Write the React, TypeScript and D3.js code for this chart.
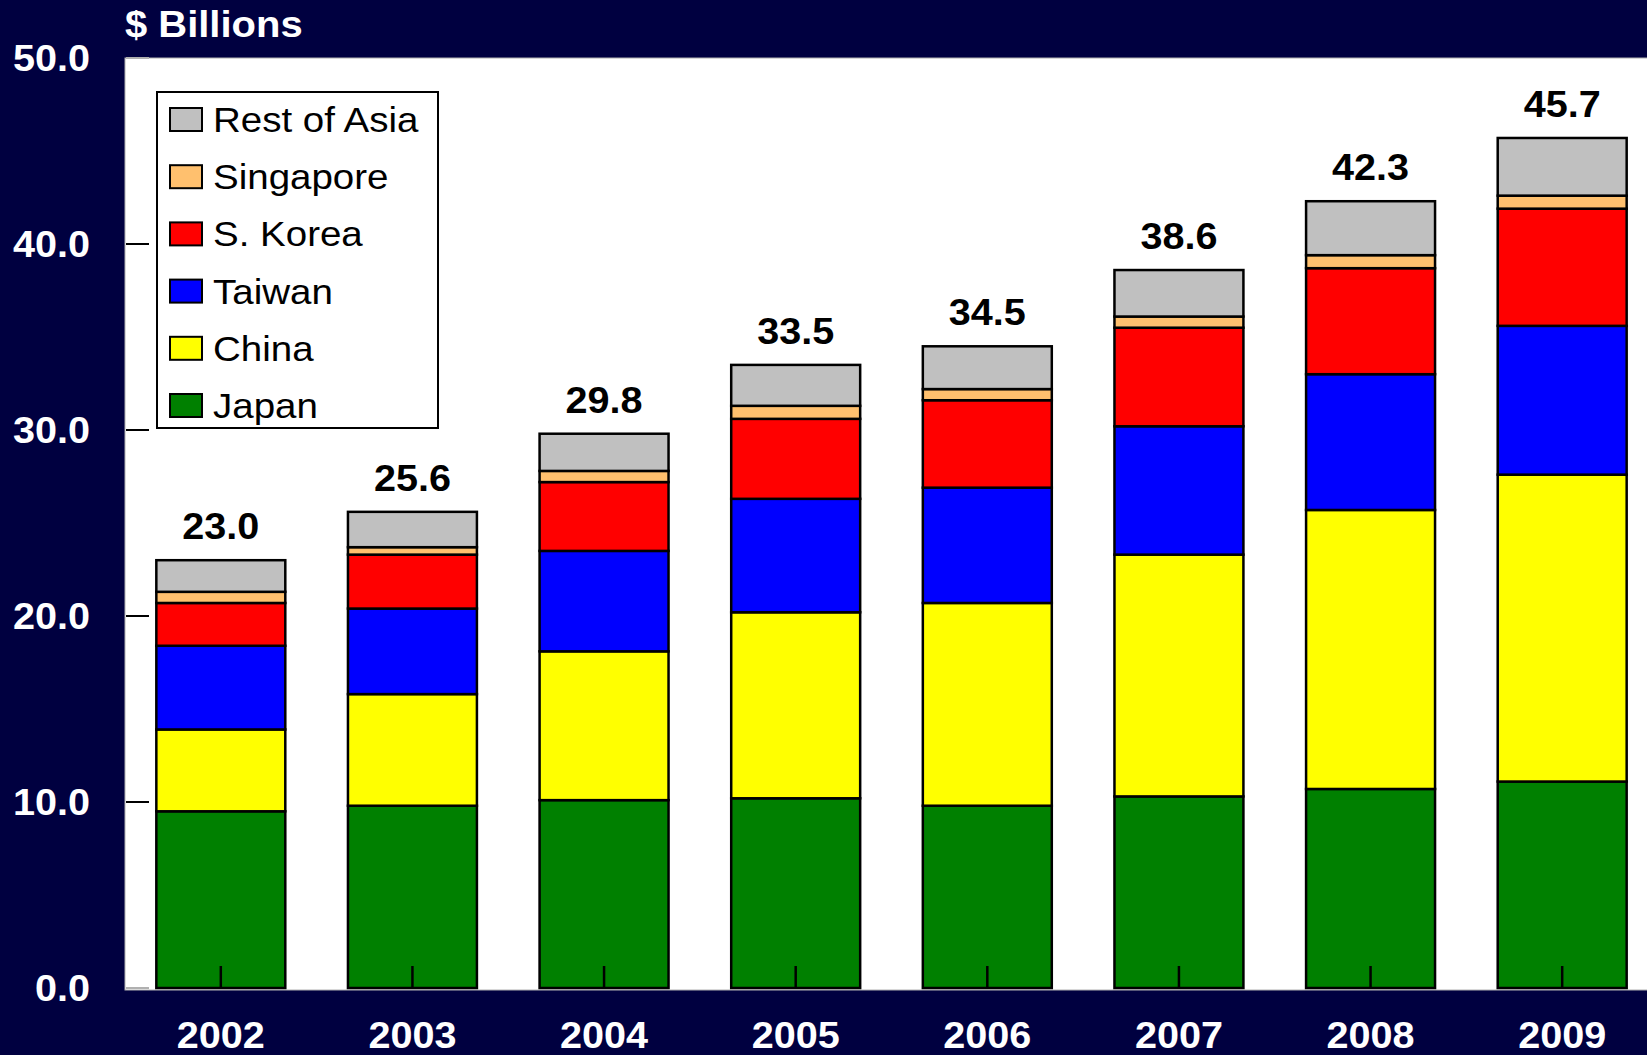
import React, { useEffect, useRef } from "react";
import * as d3 from "d3";

// --- Data ($ billions) ---
const years = ["2002", "2003", "2004", "2005", "2006", "2007", "2008", "2009"];

const japan = [9.5, 9.8, 10.1, 10.2, 9.8, 10.3, 10.7, 11.1];
const china = [4.4, 6.0, 8.0, 10.0, 10.9, 13.0, 15.0, 16.5];
const taiwan = [4.5, 4.6, 5.4, 6.1, 6.2, 6.9, 7.3, 8.0];
const korea = [2.3, 2.9, 3.7, 4.3, 4.7, 5.3, 5.7, 6.3];
const singapore = [0.6, 0.4, 0.6, 0.7, 0.6, 0.6, 0.7, 0.7];
const restOfAsia = [1.7, 1.9, 2.0, 2.2, 2.3, 2.5, 2.9, 3.1];

const totals = ["23.0", "25.6", "29.8", "33.5", "34.5", "38.6", "42.3", "45.7"];
const yTicks = [0, 10, 20, 30, 40, 50];

// bottom to top stacking order
const seriesNames = ["Japan", "China", "Taiwan", "S. Korea", "Singapore", "Rest of Asia"];
const seriesValues = [japan, china, taiwan, korea, singapore, restOfAsia];
const seriesColors = ["#008000", "#FFFF00", "#0000FF", "#FF0000", "#FFC06E", "#C0C0C0"];

const W = 1647;
const H = 1055;
const FONT = "'Liberation Sans', Arial, Helvetica, sans-serif";

const App: React.FC = () => {
  const svgRef = useRef<SVGSVGElement>(null);

  useEffect(() => {
    if (!svgRef.current) return;
    const svg = d3.select(svgRef.current);
    svg.selectAll("*").remove();

    const plot = { left: 125, top: 58, right: 1658, bottom: 988 };

    const x = d3
      .scaleBand()
      .domain(years)
      .range([plot.left, plot.right])
      .paddingInner(0.327)
      .paddingOuter(0.1635);

    const y = d3.scaleLinear().domain([0, 50]).range([plot.bottom, plot.top]);
    const cx = (d: string) => x(d)! + x.bandwidth() / 2;

    // the original slide text is a bit wider than plain Arial
    const STRETCH = 1.07;

    // background
    svg.append("rect").attr("width", W).attr("height", H).attr("fill", "#000040");

    // plot area
    svg
      .append("rect")
      .attr("x", plot.left)
      .attr("y", plot.top)
      .attr("width", plot.right - plot.left)
      .attr("height", plot.bottom - plot.top + 2)
      .attr("fill", "#ffffff")
      .attr("stroke", "#b0b0b0")
      .attr("stroke-width", 1);

    // stack data
    const rows = years.map((yr, i) => {
      const r: any = { year: yr };
      seriesNames.forEach((n, s) => (r[n] = seriesValues[s][i]));
      return r;
    });
    const stacked = d3.stack<any>().keys(seriesNames)(rows);

    const layers = svg
      .append("g")
      .selectAll("g")
      .data(stacked)
      .enter()
      .append("g")
      .attr("fill", (_d, i) => seriesColors[i]);

    layers
      .selectAll("rect")
      .data((d) => d)
      .enter()
      .append("rect")
      .attr("x", (d: any) => x(d.data.year)!)
      .attr("y", (d) => y(d[1]))
      .attr("width", x.bandwidth())
      .attr("height", (d) => y(d[0]) - y(d[1]))
      .attr("stroke", "#000")
      .attr("stroke-width", 2.5);

    // y ticks (inside, pointing right)
    svg
      .append("g")
      .selectAll("line")
      .data(yTicks)
      .enter()
      .append("line")
      .attr("x1", plot.left + 1)
      .attr("x2", plot.left + 24)
      .attr("y1", (d) => y(d))
      .attr("y2", (d) => y(d))
      .attr("stroke", (d) => (d === 0 || d === 50 ? "#b0b0b0" : "#000"))
      .attr("stroke-width", 2);

    // y tick labels
    svg
      .append("g")
      .selectAll("text")
      .data(yTicks)
      .enter()
      .append("text")
      .attr("transform", (d) => `translate(90,${y(d)}) scale(${STRETCH},1)`)
      .attr("dy", "0.36em")
      .attr("text-anchor", "end")
      .attr("fill", "#fff")
      .style("font-family", FONT)
      .style("font-weight", "bold")
      .style("font-size", "37px")
      .text((d) => d.toFixed(1));

    // x ticks (inside, pointing up from the baseline)
    svg
      .append("g")
      .selectAll("line")
      .data(years)
      .enter()
      .append("line")
      .attr("x1", cx)
      .attr("x2", cx)
      .attr("y1", plot.bottom - 22)
      .attr("y2", plot.bottom)
      .attr("stroke", "#000")
      .attr("stroke-width", 2.5);

    // x labels
    svg
      .append("g")
      .selectAll("text")
      .data(years)
      .enter()
      .append("text")
      .attr("transform", (d) => `translate(${cx(d)},1048) scale(${STRETCH},1)`)
      .attr("text-anchor", "middle")
      .attr("fill", "#fff")
      .style("font-family", FONT)
      .style("font-weight", "bold")
      .style("font-size", "37px")
      .text((d) => d);

    // totals above bars
    const lastLayer = stacked[stacked.length - 1];
    svg
      .append("g")
      .selectAll("text")
      .data(lastLayer)
      .enter()
      .append("text")
      .attr(
        "transform",
        (d: any) => `translate(${cx(d.data.year)},${y(d[1]) - 21}) scale(${STRETCH},1)`
      )
      .attr("text-anchor", "middle")
      .attr("fill", "#000")
      .style("font-family", FONT)
      .style("font-weight", "bold")
      .style("font-size", "37px")
      .text((_d, i) => totals[i]);

    // title
    svg
      .append("text")
      .attr("transform", `translate(125,37) scale(1.08,1)`)
      .attr("fill", "#fff")
      .style("font-family", FONT)
      .style("font-weight", "bold")
      .style("font-size", "37px")
      .text("$ Billions");

    // legend (top to bottom = reverse stack order)
    const legend = svg.append("g");
    legend
      .append("rect")
      .attr("x", 157)
      .attr("y", 92)
      .attr("width", 281)
      .attr("height", 336)
      .attr("fill", "#fff")
      .attr("stroke", "#000")
      .attr("stroke-width", 2);

    const legendItems = seriesNames.map((n, i) => ({ name: n, color: seriesColors[i] })).reverse();
    const li = legend
      .selectAll("g.item")
      .data(legendItems)
      .enter()
      .append("g")
      .attr("class", "item")
      .attr("transform", (_d, i) => `translate(0,${132 + i * 57.2})`);

    li.append("rect")
      .attr("x", 170)
      .attr("y", -24)
      .attr("width", 32)
      .attr("height", 23)
      .attr("fill", (d) => d.color)
      .attr("stroke", "#000")
      .attr("stroke-width", 2);

    li.append("text")
      .attr("transform", "translate(213,0) scale(1.1,1)")
      .attr("fill", "#000")
      .style("font-family", FONT)
      .style("font-size", "35px")
      .text((d) => d.name);
  }, []);

  return (
    <svg
      ref={svgRef}
      width={W}
      height={H}
      style={{ position: "absolute", left: 0, top: 0, display: "block" }}
    />
  );
};

export default App;
